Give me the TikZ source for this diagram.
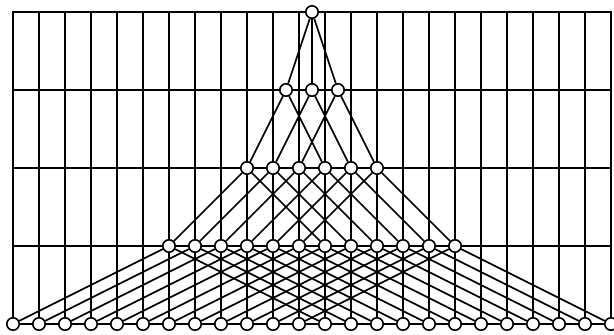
\documentclass[tikz,border=0pt]{standalone}
\pgfdeclarelayer{gridlayer}
\pgfdeclarelayer{edgelayer}
\pgfsetlayers{gridlayer,edgelayer,main}
\begin{document}
\begin{tikzpicture}[x=1pt,y=-1pt,
  vtx/.style={circle,draw,fill=white,line width=1.6pt,inner sep=0pt,minimum size=12.4pt},
  gridline/.style={line width=1.7pt,line cap=rect},
  edge/.style={line width=1.7pt}]
\useasboundingbox (0,0) rectangle (614,335);
\def\sx{26}
\def\xo{13}
\def\yo{12}
\def\sy{78}
\node[vtx] (a0) at ({\xo+11.5*\sx},{\yo}) {};
\foreach \j in {0,1,2} \node[vtx] (b\j) at ({\xo+(10.5+\j)*\sx},{\yo+\sy}) {};
\foreach \j in {0,...,5} \node[vtx] (c\j) at ({\xo+(9+\j)*\sx},{\yo+2*\sy}) {};
\foreach \j in {0,...,11} \node[vtx] (d\j) at ({\xo+(6+\j)*\sx},{\yo+3*\sy}) {};
\foreach \j in {0,...,23} \node[vtx] (e\j) at ({\xo+\j*\sx},{\yo+4*\sy}) {};
\begin{pgfonlayer}{gridlayer}
\foreach \j in {0,...,23} \draw[gridline] ({\xo+\j*\sx},{\yo}) -- ({\xo+\j*\sx},{\yo+4*\sy});
\foreach \k in {0,...,4} \draw[gridline] ({\xo},{\yo+\k*\sy}) -- ({\xo+23*\sx},{\yo+\k*\sy});
\end{pgfonlayer}
\begin{pgfonlayer}{edgelayer}
\foreach \j in {0,1,2} \draw[edge] (a0) -- (b\j);
\foreach \j [evaluate=\j as \k using int(\j+3)] in {0,1,2} {\draw[edge] (b\j) -- (c\j); \draw[edge] (b\j) -- (c\k);}
\foreach \j [evaluate=\j as \k using int(\j+6)] in {0,...,5} {\draw[edge] (c\j) -- (d\j); \draw[edge] (c\j) -- (d\k);}
\foreach \j [evaluate=\j as \k using int(\j+12)] in {0,...,11} {\draw[edge] (d\j) -- (e\j); \draw[edge] (d\j) -- (e\k);}
\end{pgfonlayer}
\end{tikzpicture}
\end{document}
